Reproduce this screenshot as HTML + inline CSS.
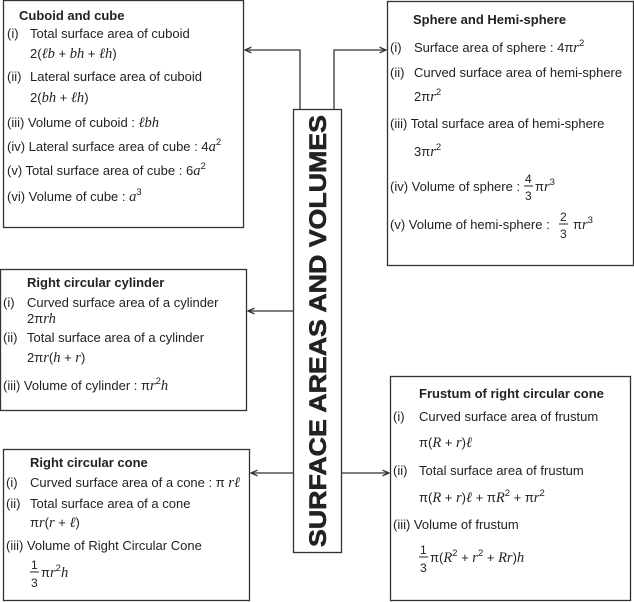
<!DOCTYPE html>
<html><head><meta charset="utf-8"><style>
html,body{margin:0;padding:0;background:#fff}
svg{display:block}
text{font-family:"Liberation Sans",Arial,sans-serif;font-size:13px;fill:#222}
.t{font-weight:bold}
.m{font-family:"Liberation Serif",serif;font-style:italic;font-size:14.5px}
.s{font-size:9.5px}
.f{font-size:12px}
</style></head><body>
<svg width="634" height="602" viewBox="0 0 634 602" xmlns="http://www.w3.org/2000/svg">
<defs><marker id="a" markerWidth="6" markerHeight="6" refX="5" refY="3" orient="auto"><path d="M0,0.8 L5,3 L0,5.2" fill="none" stroke="#333" stroke-width="1"/></marker></defs>
<g fill="none" stroke="#333" stroke-width="1.3">
<rect x="3.5" y="0.5" width="240" height="227"/>
<rect x="387.5" y="1.5" width="246" height="264"/>
<rect x="0.5" y="269.5" width="246" height="141"/>
<rect x="3.5" y="449.5" width="246" height="151"/>
<rect x="390.5" y="376.5" width="240" height="224"/>
<rect x="293.5" y="109.5" width="48" height="443"/>
<path d="M300,109 V50 H245" marker-end="url(#a)"/>
<path d="M334,109 V50 H386" marker-end="url(#a)"/>
<path d="M293,311 H248" marker-end="url(#a)"/>
<path d="M293,473 H251" marker-end="url(#a)"/>
<path d="M342,473 H389" marker-end="url(#a)"/>
</g>
<text x="0" y="0" class="t" style="font-size:24px;stroke:#222;stroke-width:0.6" transform="translate(326,547) rotate(-90)" textLength="432" lengthAdjust="spacingAndGlyphs">SURFACE AREAS AND VOLUMES</text>

<text x="19" y="20" class="t">Cuboid and cube</text>
<text x="7" y="38">(i)</text><text x="30" y="38">Total surface area of cuboid</text>
<text x="30" y="58">2(<tspan class="m">ℓb</tspan> + <tspan class="m">bh</tspan> + <tspan class="m">ℓh</tspan>)</text>
<text x="7" y="81">(ii)</text><text x="30" y="81">Lateral surface area of cuboid</text>
<text x="30" y="102">2(<tspan class="m">bh</tspan> + <tspan class="m">ℓh</tspan>)</text>
<text x="7" y="127">(iii) Volume of cuboid : <tspan class="m">ℓbh</tspan></text>
<text x="7" y="151">(iv) Lateral surface area of cube : 4<tspan class="m">a</tspan><tspan dy="-6" class="s">2</tspan></text>
<text x="7" y="175">(v)  Total surface area of cube : 6<tspan class="m">a</tspan><tspan dy="-6" class="s">2</tspan></text>
<text x="7" y="201">(vi) Volume of cube : <tspan class="m">a</tspan><tspan dy="-6" class="s">3</tspan></text>

<text x="413" y="24" class="t">Sphere and Hemi-sphere</text>
<text x="390" y="52">(i)</text><text x="414" y="52">Surface area of sphere : 4π<tspan class="m">r</tspan><tspan dy="-6" class="s">2</tspan></text>
<text x="390" y="77">(ii)</text><text x="414" y="77">Curved surface area of hemi-sphere</text>
<text x="414" y="101">2π<tspan class="m">r</tspan><tspan dy="-6" class="s">2</tspan></text>
<text x="390" y="128">(iii) Total surface area of hemi-sphere</text>
<text x="414" y="156">3π<tspan class="m">r</tspan><tspan dy="-6" class="s">2</tspan></text>
<text x="390" y="191">(iv) Volume of sphere :</text>
<text x="525" y="183" class="f">4</text><line x1="524" y1="186" x2="533" y2="186" stroke="#222"/><text x="525" y="200" class="f">3</text>
<text x="535" y="191">π<tspan class="m">r</tspan><tspan dy="-6" class="s">3</tspan></text>
<text x="390" y="229">(v)  Volume of hemi-sphere :</text>
<text x="560" y="221" class="f">2</text><line x1="559" y1="224" x2="568" y2="224" stroke="#222"/><text x="560" y="238" class="f">3</text>
<text x="573" y="229">π<tspan class="m">r</tspan><tspan dy="-6" class="s">3</tspan></text>

<text x="27" y="287" class="t">Right circular cylinder</text>
<text x="3" y="307">(i)</text><text x="27" y="307">Curved surface area of a cylinder</text>
<text x="27" y="323">2π<tspan class="m">rh</tspan></text>
<text x="3" y="342">(ii)</text><text x="27" y="342">Total surface area of a cylinder</text>
<text x="27" y="362">2π<tspan class="m">r</tspan>(<tspan class="m">h</tspan> + <tspan class="m">r</tspan>)</text>
<text x="3" y="390">(iii) Volume of cylinder : π<tspan class="m">r</tspan><tspan dy="-6" class="s">2</tspan><tspan dy="6" class="m">h</tspan></text>

<text x="30" y="467" class="t">Right circular cone</text>
<text x="6" y="487">(i)</text><text x="30" y="487">Curved surface area of a cone : π <tspan class="m">rℓ</tspan></text>
<text x="6" y="508">(ii)</text><text x="30" y="508">Total surface area of a cone</text>
<text x="30" y="527">π<tspan class="m">r</tspan>(<tspan class="m">r</tspan> + <tspan class="m">ℓ</tspan>)</text>
<text x="6" y="550">(iii) Volume of Right Circular Cone</text>
<text x="31" y="569" class="f">1</text><line x1="30" y1="572" x2="39" y2="572" stroke="#222"/><text x="31" y="587" class="f">3</text>
<text x="41" y="577">π<tspan class="m">r</tspan><tspan dy="-6" class="s">2</tspan><tspan dy="6" class="m">h</tspan></text>

<text x="419" y="398" class="t">Frustum of right circular cone</text>
<text x="393" y="421">(i)</text><text x="419" y="421">Curved surface area of frustum</text>
<text x="419" y="447">π(<tspan class="m">R</tspan>  + <tspan class="m">r</tspan>)<tspan class="m">ℓ</tspan></text>
<text x="393" y="475">(ii)</text><text x="419" y="475">Total surface area of frustum</text>
<text x="419" y="502">π(<tspan class="m">R</tspan> + <tspan class="m">r</tspan>)<tspan class="m">ℓ</tspan> + π<tspan class="m">R</tspan><tspan dy="-6" class="s">2</tspan><tspan dy="6"> + π</tspan><tspan class="m">r</tspan><tspan dy="-6" class="s">2</tspan></text>
<text x="393" y="529">(iii) Volume of frustum</text>
<text x="420" y="554" class="f">1</text><line x1="419" y1="557" x2="428" y2="557" stroke="#222"/><text x="420" y="572" class="f">3</text>
<text x="430" y="562">π(<tspan class="m">R</tspan><tspan dy="-6" class="s">2</tspan><tspan dy="6"> + </tspan><tspan class="m">r</tspan><tspan dy="-6" class="s">2</tspan><tspan dy="6"> + </tspan><tspan class="m">Rr</tspan>)<tspan class="m">h</tspan></text>
</svg>
</body></html>
